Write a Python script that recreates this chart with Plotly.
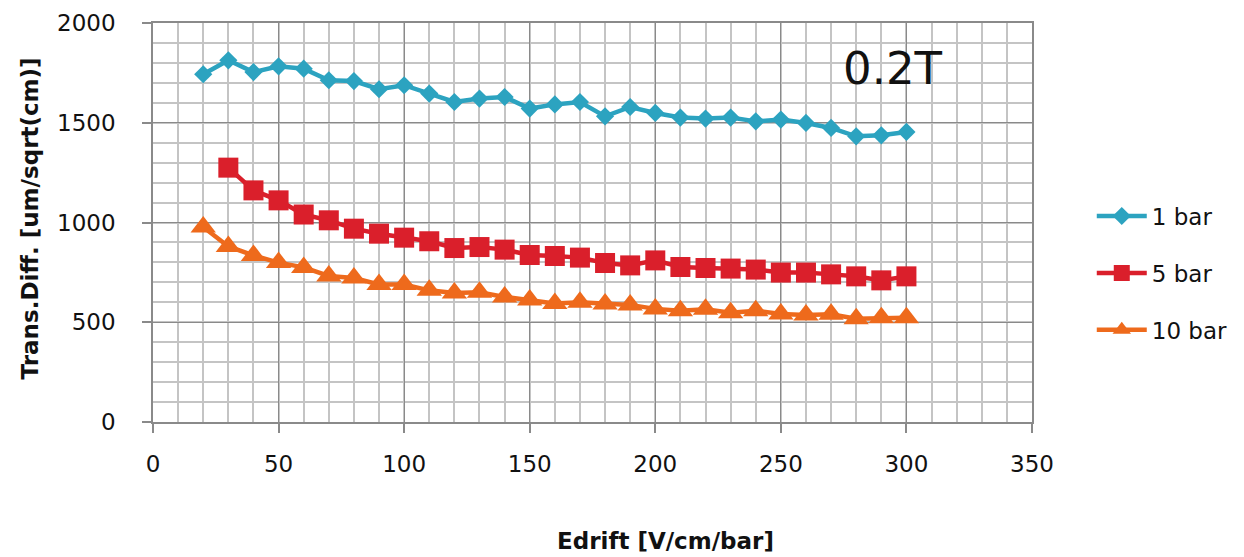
import plotly.graph_objects as go

# Drift field (V/cm/bar)
e_drift_1bar = [20, 30, 40, 50, 60, 70, 80, 90, 100, 110, 120, 130, 140, 150, 160,
                170, 180, 190, 200, 210, 220, 230, 240, 250, 260, 270, 280, 290, 300]
e_drift_hp = [30, 40, 50, 60, 70, 80, 90, 100, 110, 120, 130, 140, 150, 160,
              170, 180, 190, 200, 210, 220, 230, 240, 250, 260, 270, 280, 290, 300]
e_drift_10bar = [20, 30, 40, 50, 60, 70, 80, 90, 100, 110, 120, 130, 140, 150, 160,
                 170, 180, 190, 200, 210, 220, 230, 240, 250, 260, 270, 280, 290, 300]

# Transverse diffusion (um/sqrt(cm))
diff_1bar = [1743, 1813, 1754, 1783, 1771, 1713, 1709, 1668, 1688, 1646, 1604, 1621,
             1629, 1571, 1592, 1604, 1532, 1579, 1549, 1526, 1521, 1526, 1507, 1516,
             1499, 1474, 1432, 1437, 1454]
diff_5bar = [1275, 1161, 1111, 1040, 1011, 969, 944, 924, 906, 872, 877, 864, 837,
             832, 824, 797, 785, 810, 777, 772, 769, 764, 749, 749, 740, 730, 710, 730]
diff_10bar = [977, 880, 835, 799, 775, 732, 722, 689, 689, 660, 647, 650, 627, 612,
              594, 600, 592, 587, 567, 558, 565, 548, 558, 541, 536, 540, 518, 523, 523]

series_names = ["1 bar", "5 bar", "10 bar"]
series_colors = ["#2ca3c0", "#da1f2b", "#ee6a1c"]
series_symbols = ["diamond", "square", "triangle-up"]
series_sizes = [14, 20, 22]

x_ticks = [0, 50, 100, 150, 200, 250, 300, 350]
y_ticks = [0, 500, 1000, 1500, 2000]

FONT = "DejaVu Sans"

fig = go.Figure()
for name, xs, ys, col, sym, sz in zip(series_names,
                                      [e_drift_1bar, e_drift_hp, e_drift_10bar],
                                      [diff_1bar, diff_5bar, diff_10bar],
                                      series_colors, series_symbols, series_sizes):
    fig.add_trace(go.Scatter(
        x=xs, y=ys, name=name, mode="lines+markers", legendgroup=name,
        line=dict(color=col, width=4.5),
        marker=dict(symbol=sym, size=sz, color=col, line=dict(width=0)),
    ))

major_grid = "#8a8a8a"
minor_grid = "#c4c4c4"

fig.update_layout(
    width=1244, height=557,
    margin=dict(l=153, r=212, t=23, b=135, autoexpand=False),
    paper_bgcolor="white", plot_bgcolor="white",
    font=dict(family=FONT, size=23, color="#111111"),
    showlegend=True,
    legend=dict(x=1.068, y=0.570, xanchor="left", yanchor="top",
                font=dict(family=FONT, size=23, color="#111111"),
                itemwidth=50, tracegroupgap=24, bgcolor="rgba(0,0,0,0)"),
    xaxis=dict(
        range=[0, 350], tickvals=x_ticks, ticktext=[str(v) for v in x_ticks],
        showgrid=True, gridcolor=major_grid, gridwidth=1.3,
        minor=dict(dtick=10, showgrid=True, gridcolor=minor_grid, gridwidth=1.5),
        showline=True, linecolor=major_grid, linewidth=1.5, mirror=True,
        ticks="outside", ticklen=9, tickcolor=major_grid, tickwidth=1.5,
        ticklabelstandoff=12, zeroline=False,
        tickfont=dict(family=FONT, size=23, color="#111111"),
    ),
    yaxis=dict(
        range=[0, 2000], tickvals=y_ticks, ticktext=[str(v) for v in y_ticks],
        showgrid=True, gridcolor=major_grid, gridwidth=1.3,
        minor=dict(dtick=100, showgrid=True, gridcolor=minor_grid, gridwidth=1.5),
        showline=True, linecolor=major_grid, linewidth=1.5, mirror=True,
        ticks="outside", ticklen=9, tickcolor=major_grid, tickwidth=1.5,
        ticklabelstandoff=22, zeroline=False,
        tickfont=dict(family=FONT, size=23, color="#111111"),
    ),
)

# Axis titles and field label
fig.add_annotation(text="<b>Edrift [V/cm/bar]</b>", xref="paper", yref="paper",
                   x=0.5825, y=-0.298, xanchor="center", yanchor="middle",
                   showarrow=False, font=dict(family=FONT, size=23, color="#111111"))
fig.add_annotation(text="<b>Trans.Diff. [um/sqrt(cm)]</b>", xref="paper", yref="paper",
                   x=-0.140, y=0.51, xanchor="center", yanchor="middle", textangle=-90,
                   showarrow=False, font=dict(family=FONT, size=23, color="#111111"))
fig.add_annotation(text="0.2T", xref="paper", yref="paper",
                   x=0.842, y=0.887, xanchor="center", yanchor="middle",
                   showarrow=False, font=dict(family=FONT, size=45, color="#111111"))

fig.write_html("out.html")
